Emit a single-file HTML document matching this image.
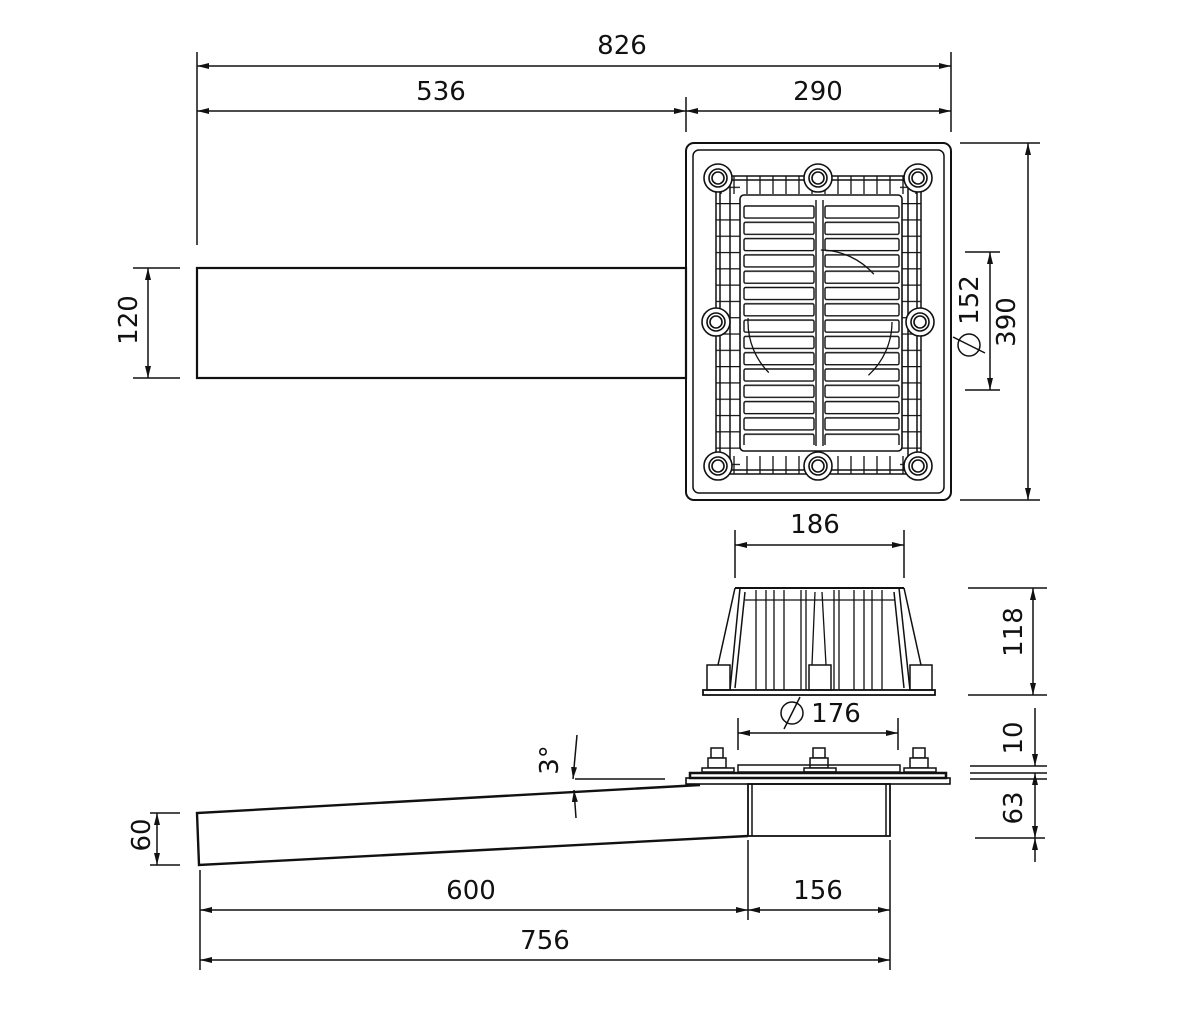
<!DOCTYPE html>
<html><head><meta charset="utf-8"><style>
html,body{margin:0;padding:0;background:#fff;}
svg{display:block;}
text{font-family:"DejaVu Sans","Liberation Sans",sans-serif;font-size:26px;fill:#111;}
</style></head><body>
<svg width="1200" height="1021" viewBox="0 0 1200 1021" xmlns="http://www.w3.org/2000/svg">
<defs>
<marker id="a" viewBox="0 0 12 6" refX="12" refY="3" markerWidth="12" markerHeight="6" orient="auto-start-reverse" markerUnits="userSpaceOnUse"><path d="M0,0 L12,3 L0,6 z" fill="#111"/></marker>
<pattern id="slatL" x="743" y="205" width="72" height="16.3" patternUnits="userSpaceOnUse"><rect x="1" y="1" width="70" height="12" rx="1.5" fill="none" stroke="#111" stroke-width="1.4"/></pattern>
<pattern id="slatR" x="824" y="205" width="76" height="16.3" patternUnits="userSpaceOnUse"><rect x="1" y="1" width="74" height="12" rx="1.5" fill="none" stroke="#111" stroke-width="1.4"/></pattern>
<pattern id="ribv" x="0" y="0" width="13" height="400" patternUnits="userSpaceOnUse"><line x1="6" y1="0" x2="6" y2="400" stroke="#111" stroke-width="1.3"/></pattern>
<pattern id="ribh" x="0" y="0" width="400" height="16.3" patternUnits="userSpaceOnUse"><line x1="0" y1="8" x2="400" y2="8" stroke="#111" stroke-width="1.3"/></pattern>
</defs>
<g stroke="#111" stroke-width="1.5" fill="none">
<line x1="197" y1="52" x2="197" y2="245"/>
<line x1="951" y1="52" x2="951" y2="132"/>
<line x1="686" y1="97" x2="686" y2="132"/>
<line x1="197" y1="66" x2="951" y2="66" marker-start="url(#a)" marker-end="url(#a)"/>
<line x1="197" y1="111" x2="686" y2="111" marker-start="url(#a)" marker-end="url(#a)"/>
<line x1="686" y1="111" x2="951" y2="111" marker-start="url(#a)" marker-end="url(#a)"/>
<rect x="197" y="268" width="489" height="110" stroke-width="2.2"/>
<line x1="133" y1="268" x2="180" y2="268"/><line x1="133" y1="378" x2="180" y2="378"/>
<line x1="148" y1="268" x2="148" y2="378" marker-start="url(#a)" marker-end="url(#a)"/>
<rect x="686" y="143" width="265" height="357" rx="8" stroke-width="2"/>
<rect x="693" y="150" width="251" height="343" rx="6"/>
<line x1="960" y1="143" x2="1040" y2="143"/><line x1="960" y1="500" x2="1040" y2="500"/>
<line x1="1028" y1="143" x2="1028" y2="500" marker-start="url(#a)" marker-end="url(#a)"/>
<line x1="965" y1="252" x2="1000" y2="252"/><line x1="965" y1="390" x2="1000" y2="390"/>
<line x1="990" y1="252" x2="990" y2="390" marker-start="url(#a)" marker-end="url(#a)"/>
<rect x="716" y="176" width="205" height="298"/>
<rect x="720" y="180" width="197" height="290"/>
<rect x="716" y="176" width="205" height="18" fill="url(#ribv)" stroke="none"/>
<rect x="716" y="456" width="205" height="18" fill="url(#ribv)" stroke="none"/>
<rect x="716" y="176" width="24" height="298" fill="url(#ribh)" stroke="none"/>
<rect x="900" y="176" width="21" height="298" fill="url(#ribh)" stroke="none"/>
<line x1="730" y1="180" x2="730" y2="470"/><line x1="908" y1="180" x2="908" y2="470"/>
<rect x="740" y="195" width="162" height="256" rx="4" fill="#fff" stroke-width="1.6"/>
<rect x="743" y="205" width="72" height="240" fill="url(#slatL)" stroke="none"/>
<rect x="824" y="205" width="76" height="240" fill="url(#slatR)" stroke="none"/>
<line x1="816" y1="200" x2="816" y2="446" stroke-width="1.4"/><line x1="823" y1="200" x2="823" y2="446" stroke-width="1.4"/>
<circle cx="820" cy="322" r="72" stroke-width="1.3" stroke-dasharray="60 110"/>
<g fill="#fff" stroke-width="1.6">
<circle cx="718" cy="178" r="14"/><circle cx="718" cy="178" r="9"/><circle cx="718" cy="178" r="6"/>
<circle cx="818" cy="178" r="14"/><circle cx="818" cy="178" r="9"/><circle cx="818" cy="178" r="6"/>
<circle cx="918" cy="178" r="14"/><circle cx="918" cy="178" r="9"/><circle cx="918" cy="178" r="6"/>
<circle cx="716" cy="322" r="14"/><circle cx="716" cy="322" r="9"/><circle cx="716" cy="322" r="6"/>
<circle cx="920" cy="322" r="14"/><circle cx="920" cy="322" r="9"/><circle cx="920" cy="322" r="6"/>
<circle cx="718" cy="466" r="14"/><circle cx="718" cy="466" r="9"/><circle cx="718" cy="466" r="6"/>
<circle cx="818" cy="466" r="14"/><circle cx="818" cy="466" r="9"/><circle cx="818" cy="466" r="6"/>
<circle cx="918" cy="466" r="14"/><circle cx="918" cy="466" r="9"/><circle cx="918" cy="466" r="6"/>
</g>
<line x1="735" y1="530" x2="735" y2="578"/><line x1="904" y1="530" x2="904" y2="578"/>
<line x1="735" y1="545" x2="904" y2="545" marker-start="url(#a)" marker-end="url(#a)"/>
<line x1="735" y1="588" x2="904" y2="588" stroke-width="2"/>
<path d="M735,588 L718,665 M740,588 L730,690 M904,588 L921,665 M899,588 L910,690"/>
<path d="M745,592 L735,688 M894,592 L904,688"/>
<g stroke-width="1.3">
<line x1="756" y1="590" x2="756" y2="690"/><line x1="766" y1="590" x2="766" y2="690"/>
<line x1="774" y1="590" x2="774" y2="690"/><line x1="784" y1="590" x2="784" y2="690"/>
<line x1="801" y1="590" x2="801" y2="690"/><line x1="806" y1="590" x2="806" y2="690"/>
<line x1="834" y1="590" x2="834" y2="690"/><line x1="839" y1="590" x2="839" y2="690"/>
<line x1="854" y1="590" x2="854" y2="690"/><line x1="864" y1="590" x2="864" y2="690"/>
<line x1="872" y1="590" x2="872" y2="690"/><line x1="882" y1="590" x2="882" y2="690"/>
<path d="M815,592 L812,665 M822,592 L826,665"/>
<line x1="745" y1="600" x2="895" y2="600"/>
</g>
<rect x="707" y="665" width="23" height="25" fill="#fff"/>
<rect x="809" y="665" width="22" height="25" fill="#fff"/>
<rect x="910" y="665" width="22" height="25" fill="#fff"/>
<rect x="703" y="690" width="232" height="5" stroke-width="1.8"/>
<line x1="968" y1="588" x2="1047" y2="588"/><line x1="968" y1="695" x2="1047" y2="695"/>
<line x1="1033" y1="588" x2="1033" y2="695" marker-start="url(#a)" marker-end="url(#a)"/>
<line x1="738" y1="718" x2="738" y2="750"/><line x1="898" y1="718" x2="898" y2="750"/>
<line x1="738" y1="733" x2="898" y2="733" marker-start="url(#a)" marker-end="url(#a)"/>
<circle cx="792" cy="713" r="11"/><line x1="784" y1="729" x2="800" y2="697"/>
<g fill="#fff">
<rect x="711" y="748" width="12" height="10"/><rect x="708" y="758" width="18" height="10"/><rect x="702" y="768" width="32" height="4"/>
<rect x="813" y="748" width="12" height="10"/><rect x="810" y="758" width="18" height="10"/><rect x="804" y="768" width="32" height="4"/>
<rect x="913" y="748" width="12" height="10"/><rect x="910" y="758" width="18" height="10"/><rect x="904" y="768" width="32" height="4"/>
</g>
<rect x="738" y="765" width="162" height="7"/>
<rect x="690" y="773" width="256" height="5" stroke-width="2.5"/>
<rect x="686" y="778" width="264" height="6" stroke-width="1.6"/>
<rect x="748" y="784" width="142" height="52" stroke-width="1.8"/>
<line x1="752" y1="784" x2="752" y2="836"/><line x1="886" y1="784" x2="886" y2="836"/>
<line x1="1035" y1="708" x2="1035" y2="766" marker-end="url(#a)"/>
<line x1="970" y1="766" x2="1047" y2="766"/><line x1="970" y1="773" x2="1047" y2="773"/><line x1="970" y1="779" x2="1047" y2="779"/>
<line x1="1035" y1="773" x2="1035" y2="838" marker-start="url(#a)" marker-end="url(#a)"/>
<line x1="975" y1="838" x2="1045" y2="838"/>
<line x1="1035" y1="838" x2="1035" y2="862" marker-start="url(#a)"/>
<path d="M700,785 L197,813 L199,865 L748,836" stroke-width="2.4"/>
<line x1="150" y1="813" x2="180" y2="813"/><line x1="150" y1="865" x2="180" y2="865"/>
<line x1="157" y1="813" x2="157" y2="865" marker-start="url(#a)" marker-end="url(#a)"/>
<line x1="575" y1="779" x2="665" y2="779"/>
<line x1="577" y1="735" x2="573" y2="779" marker-end="url(#a)"/>
<line x1="576" y1="818" x2="574" y2="790" marker-end="url(#a)"/>
<line x1="200" y1="870" x2="200" y2="970"/>
<line x1="748" y1="840" x2="748" y2="920"/>
<line x1="890" y1="840" x2="890" y2="970"/>
<line x1="200" y1="910" x2="748" y2="910" marker-start="url(#a)" marker-end="url(#a)"/>
<line x1="748" y1="910" x2="890" y2="910" marker-start="url(#a)" marker-end="url(#a)"/>
<line x1="200" y1="960" x2="890" y2="960" marker-start="url(#a)" marker-end="url(#a)"/>
</g>
<g text-anchor="middle">
<text x="622" y="54">826</text>
<text x="441" y="100">536</text>
<text x="818" y="100">290</text>
<text x="815" y="533">186</text>
<text x="836" y="722">176</text>
<text x="471" y="899">600</text>
<text x="818" y="899">156</text>
<text x="545" y="949">756</text>
<text transform="translate(137,320) rotate(-90)">120</text>
<text transform="translate(1015,322) rotate(-90)">390</text>
<text transform="translate(978,300) rotate(-90)">152</text>
<text transform="translate(1022,632) rotate(-90)">118</text>
<text transform="translate(1022,738) rotate(-90)">10</text>
<text transform="translate(1022,808) rotate(-90)">63</text>
<text transform="translate(150,835) rotate(-90)">60</text>
<text transform="translate(558,760) rotate(-90)">3°</text>
</g>
<g stroke="#111" stroke-width="1.5" fill="none">
<circle cx="969" cy="345" r="11"/><line x1="953" y1="337" x2="985" y2="353"/>
</g>
</svg>
</body></html>
